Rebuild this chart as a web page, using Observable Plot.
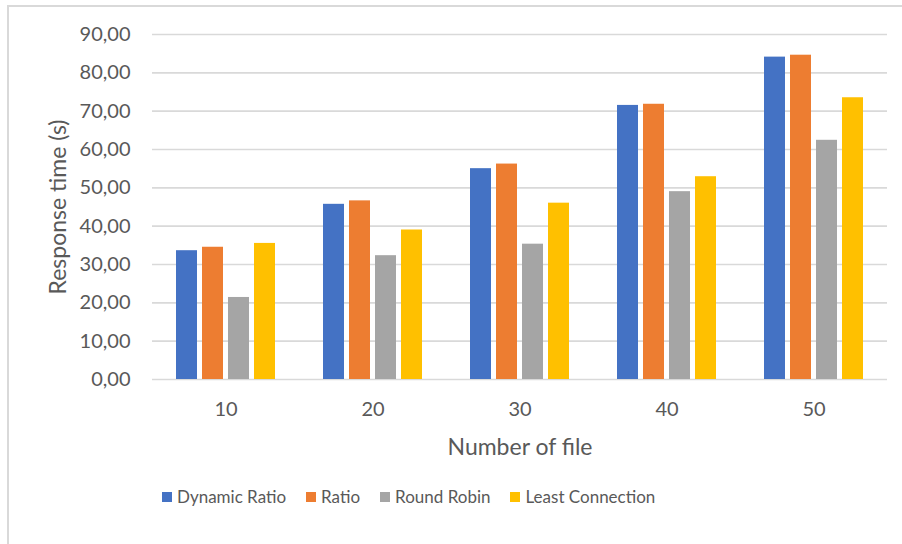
<!DOCTYPE html>
<html>
<head>
<meta charset="utf-8">
<script src="https://cdn.jsdelivr.net/npm/d3@7"></script>
<script src="https://cdn.jsdelivr.net/npm/@observablehq/plot@0.6"></script>
<style>
  body { margin: 0; background: #fff; font-family: Lato, sans-serif; }
  #wrap { position: relative; width: 902px; height: 544px; overflow: hidden; background: #fff; }
  #frame { position: absolute; left: 7px; top: 5px; right: -10px; bottom: -10px;
           border-left: 2px solid #d9d9d9; border-top: 2px solid #d9d9d9; pointer-events: none; }
  #chart { position: absolute; left: 0; top: 0; }
  #legend { position: absolute; left: 162px; top: 486px; display: flex; align-items: center;
            font-family: Lato, sans-serif; font-size: 17px; color: #595959; }
  .item { display: flex; align-items: center; margin-right: 20px; }
  .sw { width: 10px; height: 10px; margin-right: 5px; }
  #chart g[aria-label="y-axis tick label"], #chart g[aria-label="fx-axis tick label"] { font-size: 20px; }
  #chart g[aria-label="y-axis label"], #chart g[aria-label="fx-axis label"] { font-size: 23px; }
</style>
</head>
<body>
<div id="wrap">
  <div id="chart"></div>
  <div id="legend"></div>
  <div id="frame"></div>
</div>
<script>
const groups = [10, 20, 30, 40, 50];
const seriesNames = ["Dynamic Ratio", "Ratio", "Round Robin", "Least Connection"];
const dynamicRatio = [33.6, 45.7, 55.0, 71.5, 84.1];
const ratio = [34.5, 46.6, 56.2, 71.8, 84.6];
const roundRobin = [21.4, 32.3, 35.3, 49.0, 62.4];
const leastConnection = [35.5, 39.0, 46.0, 52.9, 73.5];
const colors = ["#4472C4", "#ED7D31", "#A5A5A5", "#FFC000"];
const yTicks = [0, 10, 20, 30, 40, 50, 60, 70, 80, 90];

const seriesValues = [dynamicRatio, ratio, roundRobin, leastConnection];
const data = [];
groups.forEach((g, i) => {
  seriesNames.forEach((s, j) => data.push({group: g, series: s, value: seriesValues[j][i]}));
});

const chart = Plot.plot({
  width: 902,
  height: 470,
  marginLeft: 150,
  marginRight: 13,
  marginTop: 34,
  marginBottom: 91,
  style: {fontFamily: "Lato, sans-serif", fontSize: "17px", color: "#595959", background: "transparent"},
  fx: {domain: groups, padding: 0, axis: "bottom", label: "Number of file", labelAnchor: "center",
       labelArrow: "none", tickSize: 0, tickPadding: 22, labelOffset: 75},
  x: {domain: seriesNames, axis: null, paddingInner: 0.21, paddingOuter: 0.873},
  y: {domain: [0, 90], ticks: yTicks, tickFormat: d => d.toFixed(2).replace(".", ","),
      label: "Response time (s)", labelAnchor: "center", labelArrow: "none",
      tickSize: 0, tickPadding: 22, labelOffset: 103},
  color: {domain: seriesNames, range: colors},
  marks: [
    Plot.ruleY(yTicks, {stroke: "#d9d9d9", strokeWidth: 1.6}),
    Plot.barY(data, {fx: "group", x: "series", y: "value", fill: "series"})
  ]
});
document.getElementById("chart").appendChild(chart);

const legend = document.getElementById("legend");
seriesNames.forEach((s, j) => {
  const it = document.createElement("div");
  it.className = "item";
  const sw = document.createElement("div");
  sw.className = "sw";
  sw.style.background = colors[j];
  const t = document.createElement("span");
  t.textContent = s;
  it.appendChild(sw);
  it.appendChild(t);
  legend.appendChild(it);
});
</script>
</body>
</html>
